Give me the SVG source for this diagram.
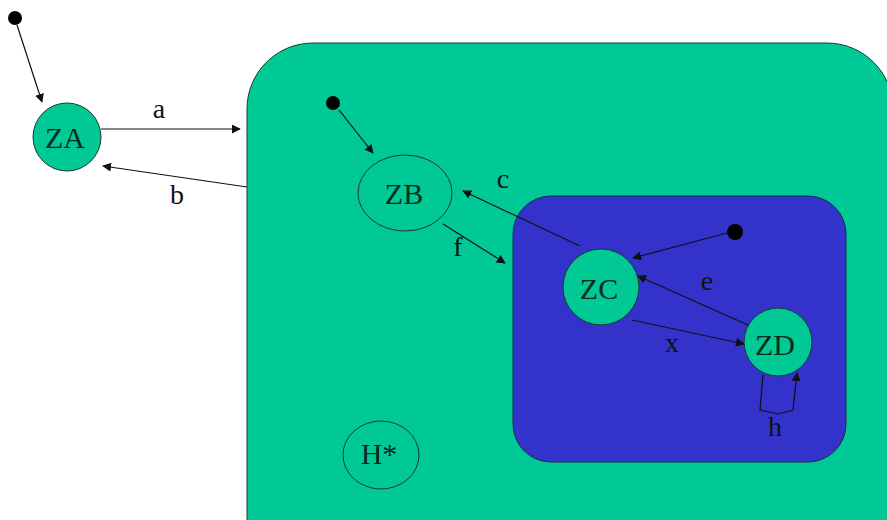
<svg xmlns="http://www.w3.org/2000/svg" width="887" height="520" viewBox="0 0 887 520">
<style>
.st{fill:#00C996;stroke:#1a3a30;stroke-width:1}
.lbl{font-family:"Liberation Serif",serif;font-size:30px;fill:#0b2a1e;text-anchor:middle}
.el{font-family:"Liberation Serif",serif;font-size:28px;fill:#111;text-anchor:middle}
.edge{fill:none;stroke:#111;stroke-width:1.2}
.dot{fill:#000}
</style>
<defs>
<marker id="ah" viewBox="0 0 10 10" refX="9" refY="5" markerWidth="9" markerHeight="9" markerUnits="userSpaceOnUse" orient="auto">
<path d="M0,0 L10,5 L0,10 z" fill="#111"/>
</marker>
</defs>
<rect width="887" height="520" fill="#ffffff"/>
<g id="outer"><rect x="247" y="43" width="646" height="540" rx="66" ry="66" class="st"/></g>
<g id="inner"><rect x="513" y="196" width="333" height="266" rx="38" ry="38" fill="#3333CC" stroke="#1a2a50" stroke-width="1"/></g>
<g id="start0"><circle cx="15" cy="18" r="7" class="dot"/></g>
<g id="ZA"><circle cx="67" cy="137" r="34" class="st"/><text x="65" y="148" class="lbl">ZA</text></g>
<g id="start1"><circle cx="333" cy="103" r="7" class="dot"/></g>
<g id="ZB"><ellipse cx="405" cy="193" rx="47" ry="38" class="st"/><text x="404" y="204" class="lbl">ZB</text></g>
<g id="start2"><circle cx="735" cy="232" r="8" class="dot"/></g>
<g id="ZC"><circle cx="601" cy="287" r="38" class="st"/><text x="599" y="299" class="lbl">ZC</text></g>
<g id="ZD"><circle cx="778" cy="342" r="34" class="st"/><text x="775" y="355" class="lbl">ZD</text></g>
<g id="Hstar"><ellipse cx="381" cy="455" rx="38" ry="34" class="st"/><text x="379" y="464" class="lbl">H*</text></g>
<g id="connectors">
<line x1="17" y1="25" x2="42" y2="102" class="edge" marker-end="url(#ah)"/>
<line x1="101" y1="129" x2="240" y2="129" class="edge" marker-end="url(#ah)"/>
<line x1="247" y1="187" x2="103" y2="166" class="edge" marker-end="url(#ah)"/>
<line x1="339" y1="110" x2="373" y2="153" class="edge" marker-end="url(#ah)"/>
<line x1="580" y1="246" x2="463" y2="191" class="edge" marker-end="url(#ah)"/>
<line x1="443" y1="224" x2="505" y2="263" class="edge" marker-end="url(#ah)"/>
<line x1="727" y1="233" x2="633" y2="258" class="edge" marker-end="url(#ah)"/>
<line x1="748" y1="325" x2="638" y2="276" class="edge" marker-end="url(#ah)"/>
<line x1="632" y1="320" x2="744" y2="344" class="edge" marker-end="url(#ah)"/>
<polyline points="763,375 760,410 778,414 793,410 797,373" class="edge" marker-end="url(#ah)"/>
</g>
<g id="labels">
<text x="159" y="118" class="el">a</text>
<text x="177" y="204" class="el">b</text>
<text x="503" y="188" class="el">c</text>
<text x="458" y="256" class="el">f</text>
<text x="707" y="290" class="el">e</text>
<text x="672" y="352" class="el">x</text>
<text x="775" y="436" class="el">h</text>
</g>
</svg>
